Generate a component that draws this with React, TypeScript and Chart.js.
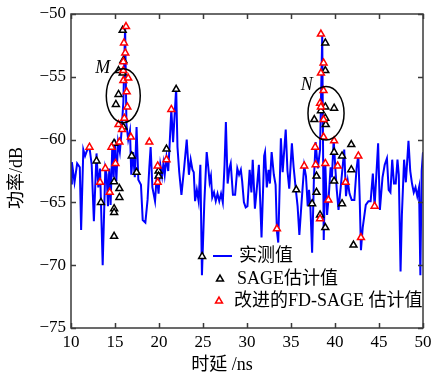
import React, { useEffect, useRef } from 'react';
import { Chart, registerables } from 'chart.js';

Chart.register(...registerables);

// 实测值 (measured) — delay in ns, power in dB
const measuredTime = [
  10.0, 10.1, 10.4, 10.7, 11.0, 11.15, 11.4, 11.6, 11.8, 12.1, 12.35, 12.6, 12.9, 13.1, 13.3, 13.6, 13.9, 14.05, 14.2, 14.35,
  14.5, 14.7, 14.85, 15.0, 15.15, 15.35, 15.55, 15.75, 15.95, 16.15, 16.3, 16.5, 16.7, 16.85, 17.05, 17.25, 17.45, 17.65, 17.95, 18.15,
  18.45, 18.7, 18.9, 19.05, 19.25, 19.55, 19.75, 19.95, 20.15, 20.35, 20.5, 20.65, 20.85, 21.05, 21.2, 21.4, 21.6, 21.95, 22.1, 22.3,
  22.55, 22.85, 23.15, 23.4, 23.6, 23.8, 23.95, 24.1, 24.3, 24.5, 24.7, 24.88, 25.15, 25.42, 25.6, 25.75, 25.9, 26.05, 26.25, 26.45,
  26.65, 26.85, 27.05, 27.25, 27.45, 27.6, 27.8, 28.0, 28.15, 28.4, 28.65, 28.9, 29.1, 29.3, 29.45, 29.65, 29.85, 30.05, 30.3, 30.5,
  30.65, 30.9, 31.1, 31.35, 31.65, 31.95, 32.05, 32.25, 32.45, 32.6, 32.8, 33.05, 33.25, 33.4, 33.55, 33.85, 34.05, 34.4, 34.6, 34.8,
  35.1, 35.3, 35.55, 35.75, 35.95, 36.2, 36.5, 36.7, 36.9, 37.05, 37.2, 37.4, 37.6, 37.8, 38.05, 38.3, 38.55, 38.72, 38.9, 39.1,
  39.3, 39.5, 39.65, 39.85, 40.05, 40.2, 40.4, 40.65, 41.05, 41.25, 41.45, 41.65, 41.9, 42.2, 42.45, 42.65, 42.8, 42.95, 43.15, 43.5,
  43.8, 44.05, 44.3, 44.5, 44.9, 45.1, 45.4, 45.65, 45.9, 46.1, 46.3, 46.5, 46.7, 46.9, 47.1, 47.25, 47.45, 47.6, 47.85, 48.05,
  48.35, 48.55, 48.75, 48.95, 49.15, 49.35, 49.55, 49.7, 49.85, 50.0,
];
const measuredPower = [
  -63.5, -61.8, -63.4, -61.9, -62.2, -67.2, -60.8, -61.3, -60.9, -60.6, -62.0, -66.5, -61.1, -63.8, -62.3, -70.0, -62.3, -62.8, -65.3, -62.3,
  -65.2, -60.3, -63.0, -60.0, -63.3, -60.2, -61.0, -59.3, -57.0, -51.0, -58.8, -60.0, -59.3, -62.8, -61.0, -63.0, -59.0, -63.2, -63.6, -66.4,
  -66.6, -64.8, -62.2, -60.6, -63.8, -64.9, -62.8, -64.3, -62.0, -62.9, -61.9, -62.8, -61.4, -62.5, -60.5, -57.6, -60.2, -55.9, -60.6, -62.6,
  -64.4, -62.3, -60.0, -62.8, -61.6, -62.4, -62.6, -64.9, -64.0, -64.9, -62.0, -70.8, -65.0, -61.0, -62.2, -63.4, -62.9, -64.6, -64.2, -64.9,
  -64.3, -64.9, -64.3, -65.0, -62.0, -58.6, -63.5, -62.3, -61.9, -64.4, -64.4, -62.3, -62.8, -62.4, -63.3, -65.0, -65.4, -65.3, -62.4, -64.2,
  -61.6, -65.5, -64.0, -62.0, -67.8, -61.3, -61.0, -63.8, -62.4, -63.5, -61.0, -62.8, -63.6, -67.3, -68.2, -59.9, -62.6, -59.2, -62.5, -63.9,
  -60.3, -62.2, -64.0, -65.3, -67.6, -65.0, -62.1, -62.9, -65.3, -64.0, -65.3, -69.0, -63.2, -60.2, -62.3, -60.8, -51.7, -68.0, -61.9, -66.0,
  -64.4, -62.2, -63.0, -60.0, -62.4, -64.0, -65.6, -63.8, -60.8, -64.5, -63.3, -64.3, -64.8, -64.8, -62.3, -61.2, -64.5, -68.8, -67.0, -65.2,
  -64.9, -64.9, -62.7, -65.3, -60.3, -65.6, -63.0, -62.0, -61.5, -64.0, -64.2, -61.6, -63.5, -63.5, -61.6, -62.8, -70.5, -66.0, -61.6, -63.4,
  -60.1, -62.5, -63.5, -64.2, -63.8, -64.5, -63.8, -70.8, -62.5, -61.0,
];

// SAGE估计值
const sageTime = [
  12.9, 13.4, 14.9, 14.9, 14.9, 14.9, 14.9, 15.5, 15.5, 15.1, 15.4, 15.4, 15.87, 15.95, 15.87, 15.95, 16.9, 17.45, 19.95, 19.95,
  20.85, 21.95, 24.9, 35.6, 37.4, 37.65, 37.9, 37.9, 38.3, 38.4, 38.9, 38.9, 38.9, 38.9, 38.95, 38.9, 39.9, 39.9, 39.9, 40.8,
  40.8, 41.85, 41.85, 42.1,
];
const sagePower = [
  -61.7, -65.0, -60.3, -63.35, -65.5, -65.8, -67.7, -63.9, -64.6, -57.2, -56.4, -54.5, -54.7, -53.7, -51.3, -59.0, -61.3, -62.6, -62.5, -62.9,
  -60.75, -56.0, -69.3, -64.0, -65.1, -58.4, -62.9, -64.2, -66.0, -57.7, -52.3, -54.5, -57.4, -58.3, -58.8, -67.0, -57.5, -61.0, -63.3, -61.3,
  -65.1, -60.4, -62.4, -68.4,
];

// 改进的FD-SAGE估计值
const fdTime = [
  12.1, 13.3, 13.9, 14.4, 14.6, 15.05, 15.5, 15.4, 15.8, 16.06, 16.4, 16.33, 15.95, 16.5, 15.95, 15.95, 16.17, 16.02, 16.25, 16.8,
  18.9, 19.85, 19.85, 20.85, 21.4, 33.4, 36.5, 37.75, 37.8, 38.3, 38.3, 38.4, 38.4, 38.4, 38.7, 38.7, 38.7, 38.7, 38.9, 39.25,
  39.9, 40.3, 41.2, 42.65, 42.95, 44.5,
];
const fdPower = [
  -60.6, -63.4, -62.3, -64.2, -60.6, -61.9, -60.2, -58.8, -59.2, -58.3, -57.4, -56.2, -55.3, -55.1, -54.5, -53.8, -53.1, -52.3, -51.0, -59.8,
  -60.2, -62.1, -63.4, -61.6, -57.6, -67.1, -62.1, -60.6, -62.0, -66.3, -57.1, -57.4, -54.7, -51.6, -53.9, -56.1, -58.4, -59.8, -61.9, -64.8,
  -60.1, -62.1, -63.4, -61.3, -67.8, -65.3,
];

const xTickValues = [10, 15, 20, 25, 30, 35, 40, 45, 50];
const yTickValues = [-75, -70, -65, -60, -55, -50];

const seriesNames = ['实测值', 'SAGE估计值', '改进的FD-SAGE 估计值'];
const xTitle = '时延 /ns';
const yTitle = '功率/dB';

// marked regions: label, centre (ns, dB), half-axes (ns, dB), label anchor (ns, dB)
const regionLabels = ['M', 'N'];
const regionCentreT = [15.94, 38.98];
const regionCentreV = [-56.5, -57.9];
const regionHalfT = [1.93, 2.05];
const regionHalfV = [2.15, 2.13];
const regionLabelT = [13.6, 36.8];
const regionLabelV = [-54.3, -55.65];

const SERIF = '"Liberation Serif", "Times New Roman", "Noto Sans CJK SC", serif';
const CJK = '"Liberation Serif", "Noto Sans CJK SC", serif';

function fmt(v: number) {
  return v < 0 ? '\u2212' + Math.abs(v) : String(v);
}

const decorPlugin = {
  id: 'decor',
  afterDatasetsDraw(chart: any) {
    const { ctx, scales } = chart;
    const x = scales.x;
    const y = scales.y;
    ctx.save();
    ctx.strokeStyle = '#000';
    ctx.lineWidth = 1.5;
    for (let i = 0; i < regionLabels.length; i++) {
      const cx = x.getPixelForValue(regionCentreT[i]);
      const cy = y.getPixelForValue(regionCentreV[i]);
      const rx = Math.abs(x.getPixelForValue(regionCentreT[i] + regionHalfT[i]) - cx);
      const ry = Math.abs(y.getPixelForValue(regionCentreV[i] + regionHalfV[i]) - cy);
      ctx.beginPath();
      ctx.ellipse(cx, cy, rx, ry, 0, 0, Math.PI * 2);
      ctx.stroke();
      ctx.fillStyle = '#000';
      ctx.font = 'italic 18px ' + SERIF;
      ctx.textAlign = 'center';
      ctx.textBaseline = 'middle';
      ctx.fillText(regionLabels[i], x.getPixelForValue(regionLabelT[i]), y.getPixelForValue(regionLabelV[i]));
    }
    ctx.restore();
  },
  afterDraw(chart: any) {
    const { ctx, chartArea, scales } = chart;
    const x = scales.x;
    const y = scales.y;
    const { left, right, top, bottom } = chartArea;
    ctx.save();
    // frame
    ctx.strokeStyle = '#3a3a3a';
    ctx.lineWidth = 1.5;
    ctx.strokeRect(left, top, right - left, bottom - top);
    const tl = 5;
    ctx.beginPath();
    for (const v of xTickValues) {
      const px = Math.round(x.getPixelForValue(v)) + 0.5;
      ctx.moveTo(px, bottom);
      ctx.lineTo(px, bottom - tl);
      ctx.moveTo(px, top);
      ctx.lineTo(px, top + tl);
    }
    for (const v of yTickValues) {
      const py = Math.round(y.getPixelForValue(v)) + 0.5;
      ctx.moveTo(left, py);
      ctx.lineTo(left + tl, py);
      ctx.moveTo(right, py);
      ctx.lineTo(right - tl, py);
    }
    ctx.stroke();

    // axis titles
    ctx.fillStyle = '#000';
    ctx.font = '18px ' + CJK;
    ctx.textAlign = 'center';
    ctx.textBaseline = 'middle';
    ctx.fillText(xTitle, 222, 365);
    ctx.save();
    ctx.translate(17, 178);
    ctx.rotate(-Math.PI / 2);
    ctx.fillText(yTitle, 0, 0);
    ctx.restore();

    // legend
    ctx.textAlign = 'left';
    ctx.textBaseline = 'middle';
    ctx.font = '18px ' + CJK;
    const rows = [256, 279, 301];
    ctx.strokeStyle = '#0000ff';
    ctx.lineWidth = 2;
    ctx.beginPath();
    ctx.moveTo(213, rows[0]);
    ctx.lineTo(232, rows[0]);
    ctx.stroke();
    ctx.fillText(seriesNames[0], 239, rows[0]);
    const tri = (cx: number, cy: number, color: string) => {
      const r = 4;
      ctx.beginPath();
      ctx.moveTo(cx, cy - r);
      ctx.lineTo(cx + r * 0.866, cy + r * 0.5);
      ctx.lineTo(cx - r * 0.866, cy + r * 0.5);
      ctx.closePath();
      ctx.fillStyle = '#fff';
      ctx.fill();
      ctx.strokeStyle = color;
      ctx.lineWidth = 1.5;
      ctx.stroke();
    };
    tri(220, rows[1], '#000');
    tri(219, rows[2], '#ff0000');
    ctx.fillStyle = '#000';
    ctx.fillText(seriesNames[1], 237, rows[1]);
    ctx.fillText(seriesNames[2], 234, rows[2]);
    ctx.restore();
  },
};

export default function App() {
  const canvasRef = useRef<HTMLCanvasElement | null>(null);

  useEffect(() => {
    const canvas = canvasRef.current;
    if (!canvas) return;
    const chart = new Chart(canvas, {
      type: 'line',
      data: {
        datasets: [
          {
            label: seriesNames[0],
            data: measuredTime.map((t, i) => ({ x: t, y: measuredPower[i] })),
            borderColor: '#0000ff',
            borderWidth: 2,
            pointRadius: 0,
            tension: 0,
            fill: false,
            order: 3,
          },
          {
            label: seriesNames[1],
            data: sageTime.map((t, i) => ({ x: t, y: sagePower[i] })),
            showLine: false,
            pointStyle: 'triangle',
            pointRadius: 4,
            pointBorderWidth: 1.5,
            pointBorderColor: '#000',
            pointBackgroundColor: '#fff',
            borderColor: '#000',
            backgroundColor: '#fff',
            order: 2,
          },
          {
            label: seriesNames[2],
            data: fdTime.map((t, i) => ({ x: t, y: fdPower[i] })),
            showLine: false,
            pointStyle: 'triangle',
            pointRadius: 4,
            pointBorderWidth: 1.5,
            pointBorderColor: '#ff0000',
            pointBackgroundColor: '#fff',
            borderColor: '#ff0000',
            backgroundColor: '#fff',
            order: 1,
          },
        ],
      },
      options: {
        animation: false,
        responsive: true,
        maintainAspectRatio: false,
        layout: { padding: { left: 0, top: 14, right: 10, bottom: 0 } },
        plugins: {
          legend: { display: false },
          tooltip: { enabled: false },
        },
        scales: {
          x: {
            type: 'linear',
            min: 10,
            max: 50,
            afterBuildTicks: (s: any) => {
              s.ticks = xTickValues.map((v) => ({ value: v }));
            },
            ticks: {
              font: { family: SERIF, size: 17 },
              color: '#000',
              padding: 4,
              maxRotation: 0,
              callback: (v: any) => fmt(Number(v)),
            },
            grid: { display: false, drawTicks: false },
            border: { display: false },
            afterFit: (s: any) => {
              s.height = 49;
              s.paddingLeft = 0;
              s.paddingRight = 0;
            },
          },
          y: {
            type: 'linear',
            min: -75,
            max: -50,
            afterBuildTicks: (s: any) => {
              s.ticks = yTickValues.map((v) => ({ value: v }));
            },
            ticks: {
              font: { family: SERIF, size: 17 },
              color: '#000',
              padding: 5,
              callback: (v: any) => fmt(Number(v)),
            },
            grid: { display: false, drawTicks: false },
            border: { display: false },
            afterFit: (s: any) => {
              s.width = 71;
              s.paddingTop = 0;
              s.paddingBottom = 0;
            },
          },
        },
      },
      plugins: [decorPlugin],
    });
    return () => chart.destroy();
  }, []);

  return (
    <div style={{ position: 'fixed', left: 0, top: 0, width: 433, height: 377, background: '#fff' }}>
      <canvas ref={canvasRef} />
    </div>
  );
}
